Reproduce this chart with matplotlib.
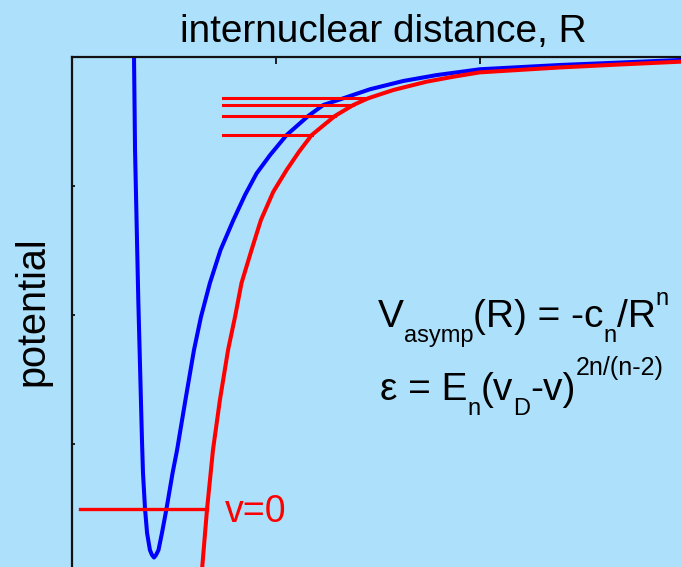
import numpy as np
import matplotlib
matplotlib.use("Agg")
import matplotlib.pyplot as plt
from matplotlib.transforms import IdentityTransform

plt.rcParams['font.family'] = ['Liberation Sans', 'DejaVu Sans']

# ---- data ----
# full molecular potential (blue)
blue_R = [0.304, 0.309, 0.325, 0.343, 0.348, 0.358, 0.368, 0.382, 0.392, 0.402,
          0.412, 0.424, 0.441, 0.463, 0.493, 0.515, 0.556, 0.598, 0.632, 0.676,
          0.728, 0.791, 0.848, 0.905, 0.971, 1.052, 1.158, 1.232, 1.330,
          1.461, 1.624, 1.788, 2.000, 2.392, 2.686, 3.000]
blue_V = [0.000, -0.721, -1.884, -2.969, -3.225, -3.504, -3.690, -3.822, -3.860, -3.880,
          -3.860, -3.822, -3.690, -3.504, -3.225, -3.047, -2.659, -2.271, -2.016, -1.752,
          -1.496, -1.264, -1.070, -0.902, -0.760, -0.605, -0.457, -0.372, -0.320,
          -0.250, -0.186, -0.140, -0.095, -0.062, -0.043, -0.022]
# asymptotic potential -c_n/R^n (red)
red_R = [0.636, 0.662, 0.691, 0.725, 0.765, 0.799, 0.831, 0.880, 0.926,
         0.987, 1.052, 1.113, 1.175, 1.289, 1.379, 1.452, 1.575, 1.739,
         1.869, 2.000, 2.392, 2.686, 3.000]
red_V = [-4.000, -3.504, -3.047, -2.659, -2.271, -2.016, -1.752, -1.496, -1.264,
         -1.044, -0.876, -0.734, -0.605, -0.457, -0.372, -0.320, -0.256, -0.191,
         -0.153, -0.119, -0.081, -0.058, -0.035]
# vibrational levels near threshold and v=0
level_E = [-0.320, -0.372, -0.457, -0.605]
level_start = 0.740
v0_E = -3.504
v0_start = 0.039

BG = '#ade0fb'
fig = plt.figure(figsize=(6.81, 5.67), dpi=100, facecolor=BG)
W, H = 681, 567
ax = fig.add_axes([72 / W, (H - 573) / H, (684 - 72) / W, (573 - 57) / H])
ax.set_facecolor(BG)
ax.set_xlim(0, 3)
ax.set_ylim(-4, 0)

ax.plot(blue_R, blue_V, color='#0000ff', lw=2.9, solid_joinstyle='round',
        solid_capstyle='round', zorder=2)

# level lines end where they meet the red curve
rR = np.array(red_R)
rV = np.array(red_V)
order = np.argsort(rV)
for E in level_E:
    xe = np.interp(E, rV[order], rR[order])
    ax.plot([level_start, xe], [E, E], color='#ff0000', lw=2.2, zorder=3)
xe0 = np.interp(v0_E, rV[order], rR[order])
ax.plot([v0_start, xe0], [v0_E, v0_E], color='#ff0000', lw=2.4, zorder=3)

ax.plot(red_R, red_V, color='#ff0000', lw=2.9, solid_joinstyle='round', zorder=4)

ax.text(0.750, -3.605, 'v=0', color='#ff0000', fontsize=27, ha='left', va='baseline')

# axes styling
for s in ['right', 'bottom']:
    ax.spines[s].set_visible(False)
for s in ['top', 'left']:
    ax.spines[s].set_linewidth(1.6)
    ax.spines[s].set_color('#111111')
ax.xaxis.tick_top()
ax.set_xticks([1, 2])
ax.set_yticks([-1, -2, -3])
ax.set_xticklabels([])
ax.set_yticklabels([])
ax.tick_params(axis='x', direction='in', length=5, width=1.2, top=True, bottom=False)
ax.tick_params(axis='y', direction='in', length=2, width=1.2, left=True, right=False)

# titles
fig.text(383.5 / W, (H - 42) / H, 'internuclear distance, R', fontsize=27.9,
         ha='center', va='baseline', color='black')
fig.text(32.5 / W, (H - 311) / H, 'potential', fontsize=28.5, rotation=90,
         ha='center', va='center', color='black')

# equations built from pieces (text, size, vertical offset in px)
renderer = fig.canvas.get_renderer()


def draw_pieces(x0, base_py, pieces):
    x = x0
    for s, size, dy in pieces:
        t = fig.text(x, H - base_py + dy, s, fontsize=size, ha='left',
                     va='baseline', color='black', transform=IdentityTransform())
        bb = t.get_window_extent(renderer=renderer)
        x += bb.width


draw_pieces(378, 327, [('V', 28, 0), ('asymp', 17, -15), ('(R) = -c', 28, 0),
                       ('n', 17, -15), ('/R', 28, 0), ('n', 17, 22)])
draw_pieces(380, 400, [('\u03b5 = E', 28, 0), ('n', 17, -15), ('(v', 28, 0),
                       ('D', 17, -15), ('-v)', 28, 0), ('2n/(n-2)', 18, 25)])

fig.savefig('out.png', dpi=100, facecolor=BG)
